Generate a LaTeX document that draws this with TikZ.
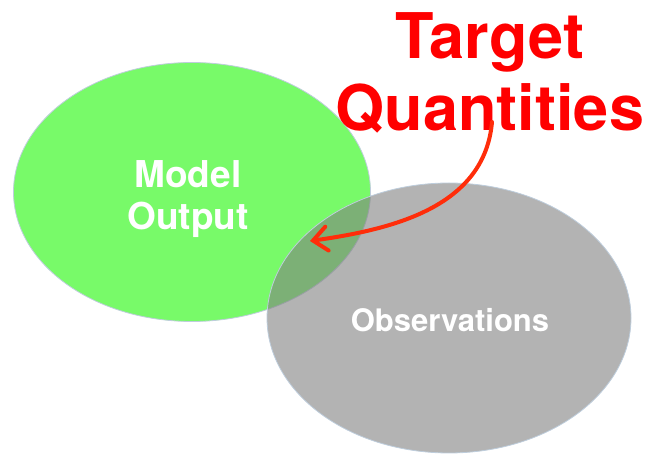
\documentclass[tikz,border=0pt]{standalone}
\usepackage{fontspec}
\setmainfont{TeX Gyre Heros}
\usetikzlibrary{shapes.geometric,arrows.meta}
\definecolor{modelgreen}{RGB}{120,250,105}
\definecolor{obsgray}{RGB}{128,128,128}
\definecolor{rimblue}{RGB}{190,205,220}
\definecolor{arrowred}{RGB}{255,45,10}

\begin{document}
\begin{tikzpicture}[x=1pt,y=1pt,
  blob/.style={ellipse,draw=rimblue,line width=0.8pt,inner sep=0pt},
  setname/.style={text=white,inner sep=0pt,align=center,font=\bfseries},
  headline/.style={text=red,inner sep=0pt,align=center,font=\bfseries\fontsize{63}{72}\selectfont},
  pointer/.style={draw=arrowred,line width=4pt,line cap=round,
    -{Straight Barb[length=14pt,width=24pt,line cap=round]}}]
\useasboundingbox (0,0) rectangle (646,455);

% the two sets
\node[blob,fill=modelgreen,minimum width=357pt,minimum height=259pt] (model) at (192,263) {};
\node[setname,font=\bfseries\fontsize{37}{42}\selectfont] (modeltext) at (188,256) {Model\\Output};
\node[blob,fill=obsgray,fill opacity=0.6,minimum width=364pt,minimum height=270pt] (obs) at (449,137) {};
\node[setname,font=\bfseries\fontsize{31}{36}\selectfont] (obstext) at (450,135) {Observations};

% label and arrow into the overlap
\node[headline,anchor=north] (target) at (490,443) {Target\\Quantities};
\coordinate (tail) at (492,333);
\coordinate (meet) at (310,214);
\draw[pointer] (tail) to[out=-95,in=8] (meet);
\end{tikzpicture}
\end{document}
